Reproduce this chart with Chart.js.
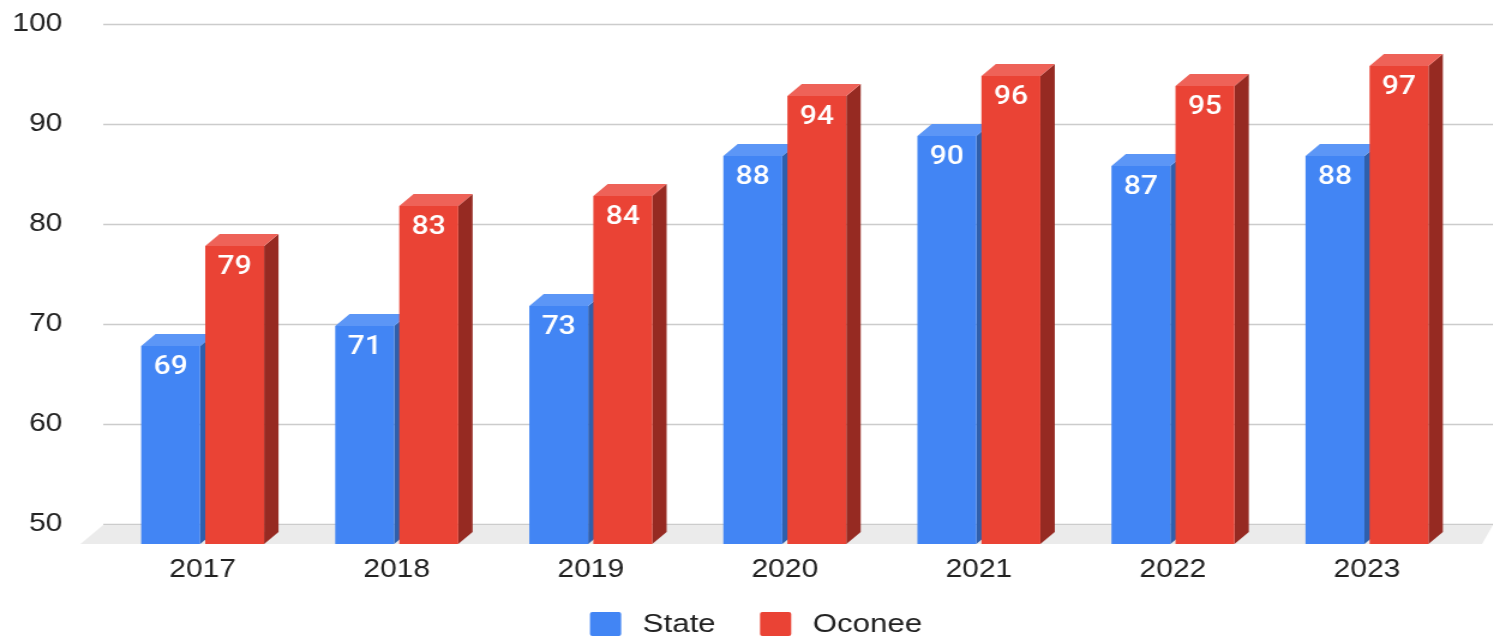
<!DOCTYPE html>
<html>
<head>
<meta charset="utf-8">
<title>State vs Oconee</title>
<script src="https://cdn.jsdelivr.net/npm/chart.js@4.4.1/dist/chart.umd.min.js"></script>
<style>
  html, body { margin: 0; padding: 0; background: #ffffff; overflow: hidden; }
  /* a imagem original esta esticada na horizontal */
  #caixa { width: 1244px; height: 638px; transform: scaleX(1.2); transform-origin: 0 0; }
</style>
</head>
<body>
<div id="caixa"><canvas id="grafico"></canvas></div>
<script>
// dados
const anos = ['2017', '2018', '2019', '2020', '2021', '2022', '2023'];
const valoresState = [69, 71, 73, 88, 90, 87, 88];
const valoresOconee = [79, 83, 84, 94, 96, 95, 97];
const nomesSeries = ['State', 'Oconee'];
const eixoMin = 50;
const eixoMax = 100;
const eixoPasso = 10;

// cores: frente, topo, lateral
const coresFrente = ['#4285F4', '#EA4335'];
const coresTopo = ['#5C96F6', '#EE6258'];
const coresLado = ['#2F5FAC', '#962A22'];

const profX = 12;   // deslocamento da face de tras
const profY = 12;
const chao = 20;    // espessura do piso

const fonteTexto = "'Liberation Sans', Arial, sans-serif";

const barras3d = {
    id: 'barras3d',
    beforeDraw(chart) {
        const ctx = chart.ctx;
        ctx.save();
        ctx.fillStyle = '#ffffff';
        ctx.fillRect(0, 0, chart.width, chart.height);
        ctx.restore();
    },
    beforeDatasetsDraw(chart) {
        const ctx = chart.ctx;
        const area = chart.chartArea;
        const y = chart.scales.y;
        ctx.save();
        // linhas de grade e rotulos do eixo y
        ctx.strokeStyle = '#cccccc';
        ctx.lineWidth = 1.5;
        ctx.fillStyle = '#222222';
        ctx.font = '25px ' + fonteTexto;
        ctx.textAlign = 'right';
        ctx.textBaseline = 'middle';
        y.ticks.forEach(t => {
            const py = Math.round(y.getPixelForValue(t.value)) + 0.5;
            ctx.beginPath();
            ctx.moveTo(area.left - 2, py);
            ctx.lineTo(chart.width, py);
            ctx.stroke();
            ctx.fillText(String(t.value), area.left - 36, py);
        });
        // piso
        const py0 = y.getPixelForValue(eixoMin);
        ctx.fillStyle = '#ebebeb';
        ctx.beginPath();
        ctx.moveTo(area.left - 2, py0 + 1);
        ctx.lineTo(chart.width, py0 + 1);
        ctx.lineTo(chart.width - 9, py0 + chao);
        ctx.lineTo(area.left - 21, py0 + chao);
        ctx.closePath();
        ctx.fill();
        ctx.restore();
    },
    beforeDatasetDraw() {
        return false;
    },
    afterDatasetsDraw(chart) {
        const ctx = chart.ctx;
        const y = chart.scales.y;
        const fundo = y.getPixelForValue(eixoMin) + chao;
        ctx.save();
        for (let i = 0; i < anos.length; i++) {
            chart.data.datasets.forEach((ds, d) => {
                const el = chart.getDatasetMeta(d).data[i];
                const p = el.getProps(['x', 'y', 'width'], true);
                const esq = p.x - p.width / 2;
                const dir = p.x + p.width / 2;
                const topo = p.y + profY;

                // lateral
                ctx.fillStyle = coresLado[d];
                ctx.beginPath();
                ctx.moveTo(dir, topo);
                ctx.lineTo(dir + profX, topo - profY);
                ctx.lineTo(dir + profX, fundo - profY);
                ctx.lineTo(dir, fundo);
                ctx.closePath();
                ctx.fill();

                // topo
                ctx.fillStyle = coresTopo[d];
                ctx.beginPath();
                ctx.moveTo(esq, topo);
                ctx.lineTo(esq + profX, topo - profY);
                ctx.lineTo(dir + profX, topo - profY);
                ctx.lineTo(dir, topo);
                ctx.closePath();
                ctx.fill();

                // frente
                ctx.fillStyle = coresFrente[d];
                ctx.fillRect(esq, topo, p.width, fundo - topo);

                // rotulo
                ctx.fillStyle = '#ffffff';
                ctx.font = "500 25px Roboto, 'Liberation Sans', sans-serif";
                ctx.textAlign = 'center';
                ctx.textBaseline = 'middle';
                ctx.fillText(String(ds.data[i]), p.x, topo + 22);
            });
        }
        ctx.restore();
    },
    afterDraw(chart) {
        // legenda desenhada a mao
        const ctx = chart.ctx;
        ctx.save();
        ctx.font = '26px ' + fonteTexto;
        ctx.textBaseline = 'middle';
        ctx.textAlign = 'left';
        const caixaL = 26, caixaA = 24, gapTexto = 18, gapItem = 37;
        const larguras = chart.data.datasets.map(ds => caixaL + gapTexto + ctx.measureText(ds.label).width);
        const total = larguras.reduce((a, b) => a + b, 0) + gapItem * (larguras.length - 1);
        let x = (chart.width - total) / 2 + 8;
        const yc = 624;
        chart.data.datasets.forEach((ds, d) => {
            ctx.fillStyle = ds.backgroundColor;
            ctx.beginPath();
            ctx.roundRect(x, yc - caixaA / 2, caixaL, caixaA, 2);
            ctx.fill();
            ctx.fillStyle = '#222222';
            ctx.fillText(ds.label, x + caixaL + gapTexto, yc + 1);
            x += larguras[d] + gapItem;
        });
        ctx.restore();
    }
};

const ctx = document.getElementById('grafico').getContext('2d');
new Chart(ctx, {
    type: 'bar',
    data: {
        labels: anos,
        datasets: [{
            label: nomesSeries[0],
            data: valoresState,
            backgroundColor: coresFrente[0],
            borderWidth: 0
        }, {
            label: nomesSeries[1],
            data: valoresOconee,
            backgroundColor: coresFrente[1],
            borderWidth: 0
        }]
    },
    options: {
        responsive: true,
        maintainAspectRatio: false,
        devicePixelRatio: 1,
        animation: false,
        categoryPercentage: 0.66,
        barPercentage: 0.92,
        layout: {
            padding: { left: 11, right: 24, top: 24, bottom: 22 }
        },
        plugins: {
            tooltip: { enabled: false },
            legend: { display: false }
        },
        scales: {
            x: {
                grid: { display: false, drawTicks: false },
                border: { display: false },
                ticks: {
                    color: '#222222',
                    padding: 31,
                    maxRotation: 0,
                    font: { family: fonteTexto, size: 25 }
                }
            },
            y: {
                min: eixoMin,
                max: eixoMax,
                grid: { display: false, drawTicks: false },
                border: { display: false },
                ticks: { display: false, stepSize: eixoPasso },
                afterFit(escala) {
                    escala.width = 77;
                }
            }
        }
    },
    plugins: [barras3d]
});
</script>
</body>
</html>
